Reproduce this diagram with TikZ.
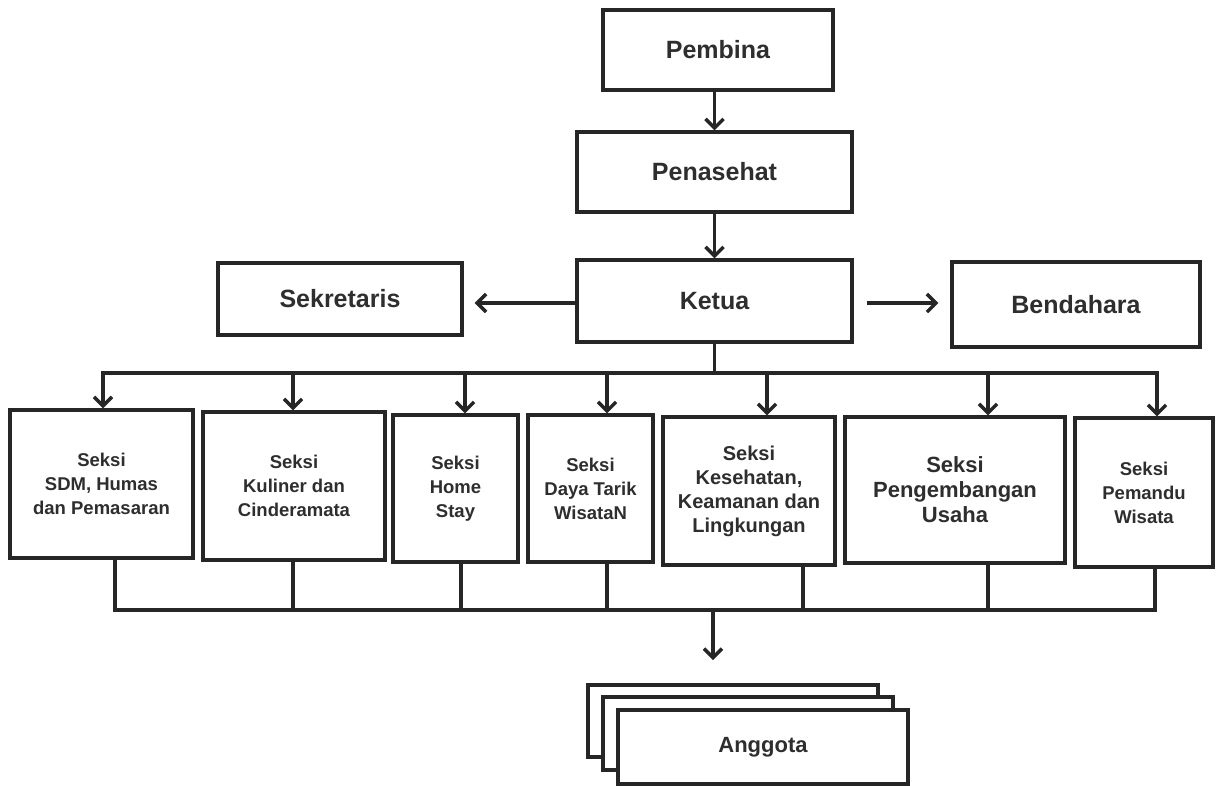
\documentclass[tikz,border=0pt]{standalone}
\usepackage{fontspec}
\setmainfont{Liberation Sans}
\usetikzlibrary{arrows.meta}
\definecolor{ink}{HTML}{262626}
\definecolor{txt}{HTML}{2E2E2E}
\tikzset{
  orgbox/.style={draw=ink, line width=3.4pt, fill=white, rectangle, inner sep=0pt, align=center, text=txt, font=\bfseries},
  topfont/.style={font=\fontsize{25}{30}\selectfont\bfseries},
  sekfont/.style={font=\fontsize{18.5}{24}\selectfont\bfseries},
  conn/.style={draw=ink, line width=3.4pt},
  arr/.style={conn, -{Straight Barb[length=9pt,width=18pt]}},
}
\begin{document}
\begin{tikzpicture}[x=1pt,y=-1pt]
\useasboundingbox (0,0) rectangle (1216,785);
% top chain
\node[orgbox, topfont, minimum width=230pt, minimum height=80pt] (pembina) at (718,50) {Pembina};
\node[orgbox, topfont, minimum width=275pt, minimum height=80pt] (penasehat) at (714.5,172) {Penasehat};
\node[orgbox, topfont, minimum width=275pt, minimum height=82pt] (ketua) at (714.5,301) {Ketua};
\node[orgbox, topfont, minimum width=244pt, minimum height=72pt] (sekretaris) at (340,299) {Sekretaris};
\node[orgbox, topfont, minimum width=248pt, minimum height=85pt] (bendahara) at (1076,304.5) {Bendahara};
% seksi boxes
\node[orgbox, sekfont, minimum width=183pt, minimum height=148pt] (s1) at (101.5,484) {Seksi\\SDM, Humas\\dan Pemasaran};
\node[orgbox, sekfont, minimum width=182pt, minimum height=148pt] (s2) at (294,486) {Seksi\\Kuliner dan\\Cinderamata};
\node[orgbox, sekfont, minimum width=125pt, minimum height=147pt] (s3) at (455.5,488.5) {Seksi\\Home\\Stay};
\node[orgbox, sekfont, minimum width=125pt, minimum height=147pt] (s4) at (590.5,488.5) {Seksi\\Daya Tarik\\WisataN};
\node[orgbox, font=\fontsize{20}{24}\selectfont\bfseries, minimum width=172pt, minimum height=148pt] (s5) at (749,491) {Seksi\\Kesehatan,\\Keamanan dan\\Lingkungan};
\node[orgbox, font=\fontsize{22}{25}\selectfont\bfseries, minimum width=220pt, minimum height=146pt] (s6) at (955,490) {Seksi\\Pengembangan\\Usaha};
\node[orgbox, sekfont, minimum width=138pt, minimum height=149pt] (s7) at (1144,492.5) {Seksi\\Pemandu\\Wisata};
% anggota stack
\node[orgbox, minimum width=290pt, minimum height=72pt] (ag3) at (733,721) {};
\node[orgbox, minimum width=290pt, minimum height=73pt] (ag2) at (748,733.5) {};
\node[orgbox, font=\fontsize{22}{26}\selectfont\bfseries, minimum width=290pt, minimum height=74pt] (ag1) at (763,747) {Anggota};
% connectors top
\draw[arr] (pembina.south -| penasehat.north) -- (penasehat.north);
\draw[arr] (penasehat.south) -- (ketua.north);
\draw[arr, shorten >=11pt] (ketua.west |- 0,303) -- (sekretaris.east |- 0,303);
\draw[arr, shorten <=13pt, shorten >=12pt] (ketua.east |- 0,303) -- (bendahara.west |- 0,303);
% upper bus
\coordinate (t1) at (103,373);
\coordinate (t2) at (293,373);
\coordinate (t3) at (465,373);
\coordinate (t4) at (607,373);
\coordinate (t5) at (767,373);
\coordinate (t6) at (988,373);
\coordinate (t7) at (1157,373);
\draw[conn] (ketua.south) -- (ketua.south |- t1);
\draw[conn, line cap=rect] (t1) -- (t7);
\foreach \i in {1,...,7} {
  \draw[arr] (t\i) -- (t\i |- s\i.north);
}
% lower bus
\coordinate (b1) at (115,610);
\coordinate (b2) at (293,610);
\coordinate (b3) at (461,610);
\coordinate (b4) at (607,610);
\coordinate (b5) at (803,610);
\coordinate (b6) at (988,610);
\coordinate (b7) at (1155,610);
\foreach \i in {1,...,7} {
  \draw[conn] (s\i.south -| b\i) -- (b\i);
}
\draw[conn, line cap=rect] (b1) -- (b7);
\coordinate (bm) at (713,610);
\coordinate (aend) at (713,660);
\draw[arr] (bm) -- (aend);
\end{tikzpicture}
\end{document}
